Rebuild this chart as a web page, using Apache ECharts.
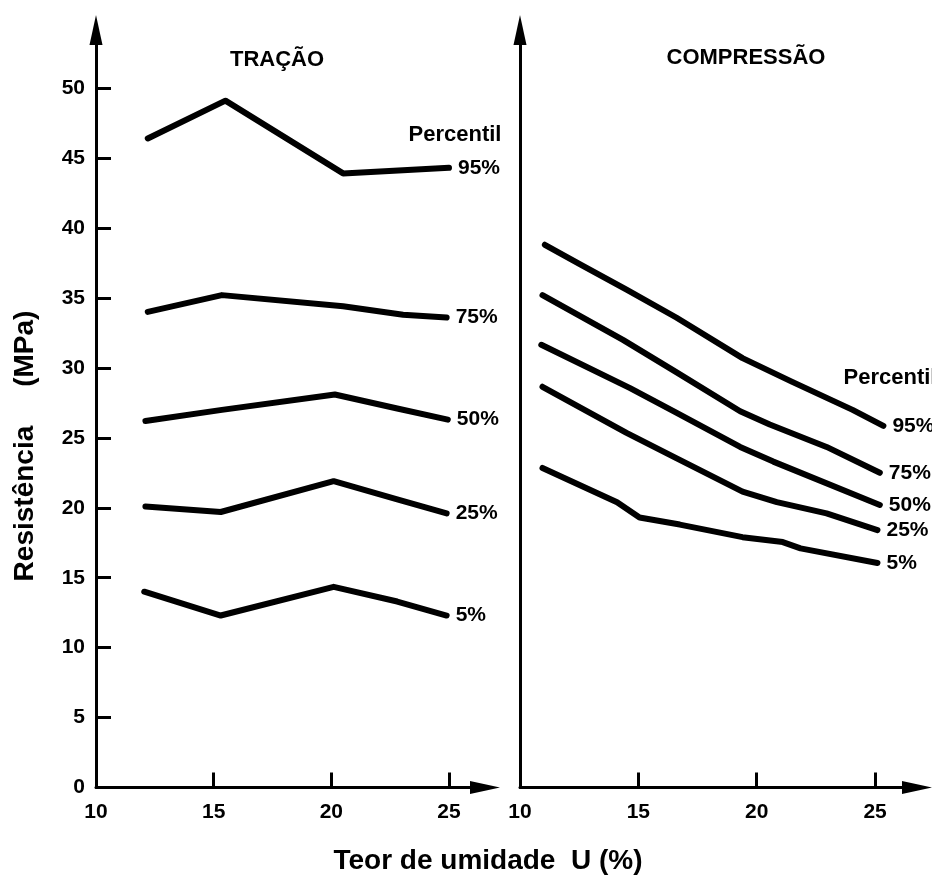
<!DOCTYPE html>
<html>
<head>
<meta charset="utf-8">
<script src="https://cdn.jsdelivr.net/npm/echarts@6/dist/echarts.min.js"></script>
<style>
  html, body { margin: 0; padding: 0; background: #fff; }
  #chart { width: 932px; height: 878px; }
</style>
</head>
<body>
<div id="chart"></div>
<script>
// percentile curves, [teor de umidade, resistencia]
const tracao95 = [[12.2, 46.4], [15.5, 49.1], [20.5, 43.9], [25.0, 44.3]];
const tracao75 = [[12.2, 34.0], [15.35, 35.2], [20.5, 34.4], [23.05, 33.8], [24.9, 33.6]];
const tracao50 = [[12.1, 26.2], [15.35, 27.0], [20.15, 28.1], [22.8, 27.1], [24.95, 26.3]];
const tracao25 = [[12.1, 20.1], [15.3, 19.7], [20.1, 21.9], [22.8, 20.6], [24.9, 19.6]];
const tracao5 = [[12.05, 14.0], [15.3, 12.3], [20.1, 14.35], [22.8, 13.3], [24.9, 12.3]];

const compressao95 = [[11.05, 38.8], [12.6, 37.35], [14.5, 35.6], [16.6, 33.6], [19.4, 30.7], [21.5, 29.0], [24.05, 27.0], [25.35, 25.85]];
const compressao75 = [[10.95, 35.2], [14.35, 32.0], [16.6, 29.7], [19.3, 26.9], [20.55, 25.95], [22.95, 24.35], [25.2, 22.5]];
const compressao50 = [[10.9, 31.65], [14.65, 28.55], [16.6, 26.8], [19.3, 24.35], [20.7, 23.3], [25.2, 20.2]];
const compressao25 = [[10.95, 28.65], [14.5, 25.35], [16.6, 23.55], [19.4, 21.15], [20.85, 20.4], [22.95, 19.6], [25.1, 18.4]];
const compressao5 = [[10.95, 22.85], [14.1, 20.4], [15.05, 19.3], [16.75, 18.8], [19.4, 17.9], [21.1, 17.55], [21.85, 17.1], [25.1, 16.05]];

const percentis = ['95%', '75%', '50%', '25%', '5%'];
const xTicks = [10, 15, 20, 25];
const yTicks = [0, 5, 10, 15, 20, 25, 30, 35, 40, 45, 50];

const FONT = '"Liberation Sans", Arial, sans-serif';

let chart = echarts.init(document.getElementById('chart'), null, { renderer: 'canvas' });

function axisLineStyle() {
    return {
        show: true,
        onZero: false,
        symbol: ['none', 'triangle'],
        symbolSize: [13, 30],
        lineStyle: { color: '#000', width: 3 }
    };
}

function xAxis(idx, max) {
    return {
        type: 'value',
        gridIndex: idx,
        min: 10,
        max: max,
        interval: 5,
        axisLine: axisLineStyle(),
        axisTick: { show: true, inside: true, length: 15, customValues: [15, 20, 25], lineStyle: { color: '#000', width: 3 } },
        axisLabel: { customValues: xTicks, margin: 14, color: '#000', fontSize: 21, fontWeight: 'bold', fontFamily: FONT },
        splitLine: { show: false }
    };
}

function lineSeries(idx, name, data) {
    return {
        type: 'line',
        name: name,
        xAxisIndex: idx,
        yAxisIndex: idx,
        data: data,
        symbol: 'none',
        clip: false,
        lineStyle: { color: '#000', width: 6, cap: 'round', join: 'round' },
        endLabel: {
            show: true,
            formatter: name,
            distance: 9,
            color: '#000',
            fontSize: 21,
            fontWeight: 'bold',
            fontFamily: FONT
        }
    };
}

const tracao = [tracao95, tracao75, tracao50, tracao25, tracao5];
const compressao = [compressao95, compressao75, compressao50, compressao25, compressao5];

let series = [];
percentis.forEach((p, i) => {
    series.push(lineSeries(0, p, tracao[i]));
    series.push(lineSeries(1, p, compressao[i]));
});

function txt(text, x, y, size, extra) {
    return Object.assign({
        type: 'text',
        x: x,
        y: y,
        style: {
            text: text,
            fill: '#000',
            font: 'bold ' + size + 'px ' + FONT,
            textAlign: 'center',
            textVerticalAlign: 'middle'
        }
    }, extra || {});
}

let option = {
    animation: false,
    backgroundColor: '#fff',
    grid: [
        { left: 96, top: 30, width: 389, height: 757.6 },
        { left: 520, top: 30, width: 397, height: 757.6 }
    ],
    xAxis: [xAxis(0, 26.53), xAxis(1, 26.77)],
    yAxis: [
        {
            type: 'value',
            gridIndex: 0,
            min: 0,
            max: 54.15,
            interval: 5,
            axisLine: axisLineStyle(),
            axisTick: { show: true, inside: true, length: 15, customValues: yTicks, lineStyle: { color: '#000', width: 3 } },
            axisLabel: { customValues: yTicks, margin: 11, color: '#000', fontSize: 21, fontWeight: 'bold', fontFamily: FONT },
            splitLine: { show: false }
        },
        {
            type: 'value',
            gridIndex: 1,
            min: 0,
            max: 54.15,
            interval: 5,
            axisLine: axisLineStyle(),
            axisTick: { show: false },
            axisLabel: { show: false },
            splitLine: { show: false }
        }
    ],
    graphic: [
        txt('TRAÇÃO', 277, 60, 22),
        txt('COMPRESSÃO', 746, 58, 22),
        txt('Percentil', 455, 135, 22),
        txt('Percentil', 890, 378, 22),
        txt('Teor de umidade  U (%)', 488, 861, 28),
        txt('Resistência     (MPa)', 25, 446, 28, { rotation: Math.PI / 2 })
    ],
    series: series
};

chart.setOption(option);
</script>
</body>
</html>
